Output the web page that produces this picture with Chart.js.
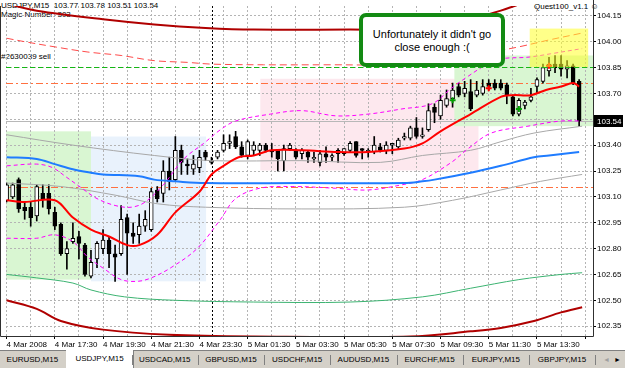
<!DOCTYPE html>
<html>
<head>
<meta charset="utf-8">
<script src="https://cdn.jsdelivr.net/npm/chart.js@4/dist/chart.umd.min.js"></script>
<style>
  html, body { margin: 0; padding: 0; background: #fff; }
  #wrap { position: relative; width: 625px; height: 368px; overflow: hidden; font-family: 'Liberation Sans', Arial, sans-serif; }
  #chart { position: absolute; left: 0; top: 0; z-index: 1; }
  .txt { position: absolute; font-size: 8px; line-height: 9px; color: #000; white-space: pre; z-index: 0; }
  #note { position: absolute; left: 359px; top: 13px; width: 138px; height: 35px; border: 4px solid #138a13; border-radius: 7px;
          background: #fff; z-index: 2; font-size: 11px; line-height: 13px; text-align: center; padding-top: 11px; box-sizing: content-box; }
  #tabs { position: absolute; left: 0; top: 350px; width: 625px; height: 18px; background: #d4d0c8; border-top: 1px solid #808080; z-index: 2; }
  .tab { position: absolute; top: 0; height: 17px; font-size: 8px; line-height: 17px; text-align: center; color: #000; }
  .tab.on { background: #fff; border-left: 1px solid #fff; border-right: 1px solid #808080; border-bottom: 1px solid #808080; top: -1px; height: 18px; }
  .sep { position: absolute; top: 4px; width: 1px; height: 10px; background: #808080; }
</style>
</head>
<body>
<div id="wrap">
  <div class="txt" style="left:1px;top:1px">USDJPY,M15  103.77 103.78 103.51 103.54
Magic Number: 303</div>
  <div class="txt" style="left:1px;top:52px">#2630039 sell</div>
  <div class="txt" style="left:534px;top:2px">Quest100_v1.1 ☺</div>
  <canvas id="chart" width="625" height="349"></canvas>
  <div id="note">Unfortunately it didn't go<br>close enough :(</div>
  <div id="tabs"></div>
</div>
<script>
// USDJPY M15, 4 Mar 2008 15:30 .. 5 Mar 2008 15:15, one value per bar
const candleOpen = [103.08,103.10,103.20,103.04,103.04,102.99,103.12,103.12,103.01,102.94,
  102.77,102.84,102.87,102.82,102.64,102.74,102.80,102.85,102.77,102.77,
  102.98,102.89,102.88,102.93,102.91,103.14,103.12,103.25,103.20,103.37,
  103.29,103.26,103.27,103.36,103.30,103.33,103.37,103.41,103.45,103.39,
  103.34,103.37,103.37,103.40,103.37,103.37,103.31,103.38,103.37,103.35,
  103.36,103.32,103.30,103.35,103.33,103.35,103.35,103.37,103.42,103.38,
  103.36,103.36,103.39,103.37,103.40,103.39,103.44,103.44,103.50,103.45,
  103.49,103.62,103.57,103.63,103.67,103.74,103.70,103.71,103.69,103.70,
  103.76,103.76,103.76,103.75,103.68,103.58,103.63,103.66,103.74,103.77,
  103.83,103.87,103.87,103.84,103.86,103.77];
const candleHigh = [103.18,103.18,103.21,103.07,103.07,103.17,103.17,103.17,103.04,102.95,
  102.84,102.95,102.90,102.83,102.79,102.84,102.91,102.87,102.82,103.05,
  103.00,102.95,103.00,103.02,103.15,103.16,103.31,103.33,103.45,103.40,
  103.32,103.34,103.37,103.37,103.33,103.37,103.46,103.46,103.48,103.42,
  103.43,103.42,103.41,103.41,103.41,103.37,103.40,103.41,103.38,103.38,
  103.37,103.36,103.37,103.39,103.35,103.38,103.38,103.42,103.42,103.38,
  103.38,103.45,103.41,103.42,103.41,103.44,103.47,103.51,103.56,103.50,
  103.64,103.64,103.69,103.72,103.76,103.76,103.77,103.78,103.77,103.78,
  103.78,103.78,103.78,103.76,103.69,103.67,103.66,103.73,103.79,103.87,
  103.91,103.92,103.92,103.89,103.87,103.78];
const candleLow = [103.07,103.09,103.01,102.97,102.93,102.96,103.04,103.00,102.91,102.76,
  102.68,102.83,102.74,102.64,102.63,102.69,102.77,102.69,102.61,102.76,
  102.65,102.83,102.83,102.90,102.90,103.07,103.07,103.14,103.19,103.23,
  103.23,103.23,103.24,103.31,103.29,103.32,103.36,103.38,103.38,103.33,
  103.32,103.34,103.34,103.36,103.33,103.25,103.25,103.37,103.32,103.32,
  103.30,103.30,103.28,103.30,103.31,103.30,103.34,103.36,103.33,103.32,
  103.33,103.35,103.36,103.35,103.35,103.38,103.43,103.43,103.44,103.44,
  103.48,103.53,103.55,103.62,103.62,103.68,103.68,103.60,103.68,103.69,
  103.72,103.72,103.72,103.64,103.57,103.57,103.61,103.65,103.70,103.76,
  103.80,103.82,103.80,103.79,103.75,103.51];
const candleClose = [103.17,103.17,103.03,103.02,102.98,103.16,103.09,103.03,102.93,102.77,
  102.80,102.86,102.83,102.65,102.72,102.83,102.85,102.77,102.75,102.97,
  102.89,102.87,102.93,102.97,103.13,103.09,103.25,103.19,103.37,103.30,
  103.28,103.29,103.33,103.33,103.31,103.36,103.41,103.42,103.39,103.34,
  103.42,103.40,103.40,103.37,103.36,103.32,103.38,103.40,103.33,103.37,
  103.33,103.33,103.35,103.33,103.34,103.37,103.38,103.41,103.34,103.37,
  103.37,103.40,103.37,103.40,103.41,103.43,103.45,103.50,103.45,103.46,
  103.60,103.59,103.66,103.67,103.72,103.69,103.73,103.61,103.72,103.74,
  103.74,103.73,103.73,103.69,103.58,103.66,103.65,103.68,103.78,103.85,
  103.87,103.85,103.84,103.86,103.76,103.54];

// indicator lines, read at selected bars
const redMaBars   = [0,3,8,11,14,17,20,22,25,28,32,34,36,38.5,41,44,49,55,60,66,69,72,77,82,84,87,89.5,92,94,95];
const redMaValues = [103.08,103.07,103.08,102.98,102.91,102.87,102.82,102.82,102.88,103.01,103.13,103.23,103.28,103.33,103.34,103.37,103.37,103.36,103.36,103.38,103.41,103.48,103.58,103.68,103.69,103.69,103.72,103.74,103.76,103.74];
const blueMaBars   = [0,5,8,11,14,16,22,24.5,28,33,49,66,69,71,77,82,87.5,90,95];
const blueMaValues = [103.33,103.32,103.29,103.26,103.24,103.23,103.22,103.20,103.19,103.18,103.18,103.18,103.19,103.20,103.24,103.28,103.33,103.34,103.36];
const bandUpBars   = [0,5,7.6,9.7,12.5,15,18,20.7,23,26,29.4,32.7,35.5,38,43.8,49,54.6,60,65.6,70.6,73.8,76.6,79.3,82,86.5,90.3,95.5];
const bandUpValues = [103.28,103.29,103.27,103.22,103.15,103.09,103.05,103.04,103.07,103.17,103.32,103.41,103.49,103.54,103.58,103.60,103.57,103.58,103.61,103.64,103.73,103.80,103.86,103.90,103.91,103.93,103.96];
const bandLoBars   = [0,5,8,11,13.5,16.3,19,21.7,24,27.3,31.6,35.5,38,42,47.5,54.6,60,65.6,69,73.8,76.6,80.4,86.5,92,95.5];
const bandLoValues = [102.86,102.86,102.88,102.84,102.75,102.68,102.62,102.61,102.63,102.69,102.80,102.97,103.09,103.15,103.16,103.15,103.14,103.17,103.20,103.30,103.38,103.47,103.51,103.54,103.54];
const redDashBars   = [0,3,8,13.5,19,24.5,30,34,42.6,54,69,74,79,85,90,95.5];
const redDashValues = [104.02,104.00,103.97,103.94,103.92,103.89,103.88,103.87,103.866,103.866,103.866,103.89,103.93,103.97,104.01,104.05];
const outerUpBars   = [0,5,16,24.5,33,41,57,66,70.6,77,82,84.5,89.5];
const outerUpValues = [104.22,104.18,104.13,104.10,104.08,104.07,104.07,104.07,104.09,104.13,104.18,104.21,104.27];
const outerLoBars   = [0,5,9,16,27,41,67,77,82,87.5,92,95.5];
const outerLoValues = [102.50,102.45,102.38,102.33,102.30,102.29,102.29,102.32,102.34,102.38,102.43,102.46];
const grayUpBars   = [0,11,24.5,34,49,62,69,77,82,87.5,95.5];
const grayUpValues = [103.46,103.40,103.34,103.31,103.31,103.30,103.34,103.37,103.42,103.47,103.51];
const grayLoBars   = [0,9,18,25,33,49,66,74,82,88.6,95.5];
const grayLoValues = [103.18,103.16,103.11,103.06,103.04,103.03,103.04,103.08,103.14,103.19,103.23];
const greenBars   = [0,5,11,14,19.6,28,41,57,69,77,85,92,95.5];
const greenValues = [102.65,102.63,102.60,102.56,102.52,102.50,102.49,102.49,102.52,102.57,102.62,102.65,102.66];

// trade arrows
const buyMarkBars = [74, 85];
const buyMarkPrices = [103.66, 103.61];
const sellMarkBars = [80, 90];
const sellMarkPrices = [103.73, 103.86];

// levels
const sellOrderLevel = 103.855;
const stopLevels = [103.76, 103.155];
const daySeparatorBars = [34];

// rectangles: bar range and price range
const zoneFrom  = [-0.2, 14.0, 42.1, 74.3];
const zoneTo    = [14.0, 33.1, 78.3, 97.5];
const zoneHigh  = [103.48, 103.45, 103.785, 103.92];
const zoneLow   = [102.62, 102.61, 103.253, 103.51];
const topZoneFrom = 86.8, topZoneTo = 96.5, topZoneHigh = 104.076, topZoneLow = 103.853;

// axes
const priceTicks = [102.35,102.50,102.65,102.80,102.95,103.10,103.25,103.40,103.55,103.70,103.85,104.00,104.15];
const timeLabels = ['4 Mar 2008','4 Mar 17:30','4 Mar 19:30','4 Mar 21:30','4 Mar 23:30','5 Mar 01:30',
  '5 Mar 03:30','5 Mar 05:30','5 Mar 07:30','5 Mar 09:30','5 Mar 11:30','5 Mar 13:30'];
const tabNames = ['EURUSD,M15','USDJPY,M15','USDCAD,M15','GBPUSD,M15','USDCHF,M15','AUDUSD,M15','EURCHF,M15','EURJPY,M15','GBPJPY,M15'];

const zoneColors = ['#d9f6d2', '#e9f2fc', '#fde8ee', '#d9f6d2'];

// tab strip
const tabs = document.getElementById('tabs');
tabNames.forEach((name, i) => {
  const t = document.createElement('div');
  t.className = 'tab' + (i === 1 ? ' on' : '');
  t.style.left = (-0.6 + 66.2 * i) + 'px';
  t.style.width = '66px';
  t.textContent = name;
  tabs.appendChild(t);
  if (i !== 0 && i !== 1) {
    const s = document.createElement('div');
    s.className = 'sep';
    s.style.left = Math.round(-0.6 + 66.2 * i) + 'px';
    tabs.appendChild(s);
  }
});
const lastSep = document.createElement('div');
lastSep.className = 'sep';
lastSep.style.left = '595px';
tabs.appendChild(lastSep);
const arrows = document.createElement('div');
arrows.className = 'tab';
arrows.style.left = '600px';
arrows.style.width = '24px';
arrows.style.fontSize = '7px';
arrows.innerHTML = '<span style="color:#a0a0a0">◄</span>&nbsp;&nbsp;►';
tabs.appendChild(arrows);

function lineSet(xs, ys, color, width, dash, order) {
  return {
    type: 'line',
    data: xs.map((x, i) => ({ x: x, y: ys[i] })),
    borderColor: color,
    borderWidth: width,
    borderDash: dash,
    pointRadius: 0,
    tension: 0.35,
    fill: false,
    order: order
  };
}

function hLine(ctx, area, y, color, dash, width) {
  ctx.save();
  ctx.strokeStyle = color;
  ctx.lineWidth = width || 1;
  ctx.setLineDash(dash);
  ctx.beginPath();
  ctx.moveTo(area.left, Math.round(y) + 0.5);
  ctx.lineTo(area.right, Math.round(y) + 0.5);
  ctx.stroke();
  ctx.restore();
}

const chartDecor = {
  id: 'chartDecor',
  beforeDraw(chart) {
    const { ctx, chartArea: a, scales: { x, y } } = chart;
    ctx.save();
    ctx.beginPath();
    ctx.rect(a.left, a.top, a.width, a.height);
    ctx.clip();
    zoneFrom.forEach((f, i) => {
      const x0 = x.getPixelForValue(f), x1 = x.getPixelForValue(zoneTo[i]);
      const y0 = y.getPixelForValue(zoneHigh[i]), y1 = y.getPixelForValue(zoneLow[i]);
      ctx.fillStyle = zoneColors[i];
      ctx.fillRect(x0, y0, x1 - x0, y1 - y0);
    });
    ctx.restore();
  },
  beforeDatasetsDraw(chart) {
    const { ctx, chartArea: a, scales: { x, y } } = chart;
    // bid line
    hLine(ctx, a, y.getPixelForValue(candleClose[candleClose.length - 1]), '#b8b8b8', []);
    stopLevels.forEach(v => hLine(ctx, a, y.getPixelForValue(v), '#ff7040', [7, 3, 2, 3]));
    ctx.save();
    ctx.strokeStyle = '#000';
    ctx.setLineDash([2, 2]);
    daySeparatorBars.forEach(b => {
      const px = Math.round(x.getPixelForValue(b)) + 0.5;
      ctx.beginPath();
      ctx.moveTo(px, a.top);
      ctx.lineTo(px, a.bottom);
      ctx.stroke();
    });
    ctx.restore();
  },
  afterDatasetsDraw(chart) {
    const { ctx, chartArea: a, scales: { x, y } } = chart;
    hLine(ctx, a, y.getPixelForValue(sellOrderLevel), '#14b814', [5, 3]);
    const x0 = x.getPixelForValue(topZoneFrom), x1 = x.getPixelForValue(topZoneTo);
    const y0 = y.getPixelForValue(topZoneHigh), y1 = y.getPixelForValue(topZoneLow);
    ctx.save();
    ctx.fillStyle = 'rgba(255,255,40,0.55)';
    ctx.fillRect(x0, y0, x1 - x0, y1 - y0);
    ctx.restore();
  },
  afterDraw(chart) {
    const { ctx, chartArea: a, scales: { y } } = chart;
    ctx.save();
    ctx.strokeStyle = '#303030';
    ctx.lineWidth = 1;
    ctx.beginPath();
    ctx.moveTo(0.5, a.top);
    ctx.lineTo(0.5, a.bottom + 0.5);
    ctx.lineTo(a.right + 0.5, a.bottom + 0.5);
    ctx.lineTo(a.right + 0.5, 0);
    ctx.stroke();
    // current price tag
    const last = candleClose[candleClose.length - 1];
    const py = Math.round(y.getPixelForValue(last));
    ctx.fillStyle = '#000';
    ctx.fillRect(a.right + 1, py - 6, 29, 12);
    ctx.fillStyle = '#fff';
    ctx.font = '8px "Liberation Sans", Arial, sans-serif';
    ctx.textBaseline = 'middle';
    ctx.fillText(last.toFixed(2), a.right + 4, py + 0.5);
    ctx.restore();
  }
};

const barIdx = candleOpen.map((_, i) => i);

new Chart(document.getElementById('chart'), {
  type: 'bar',
  data: {
    datasets: [
      {
        type: 'line', showLine: false,
        data: buyMarkBars.map((b, i) => ({ x: b, y: buyMarkPrices[i] })),
        pointStyle: 'cross', pointRadius: 3, borderWidth: 2, borderColor: '#00a000', order: 0
      },
      {
        type: 'line', showLine: false,
        data: sellMarkBars.map((b, i) => ({ x: b, y: sellMarkPrices[i] })),
        pointStyle: 'cross', pointRadius: 3, borderWidth: 2, borderColor: '#ff0000', order: 0
      },
      lineSet(redMaBars, redMaValues, '#ff0000', 2, [], 1),
      lineSet(blueMaBars, blueMaValues, '#1f7cff', 2, [], 2),
      lineSet(bandUpBars, bandUpValues, '#ff00ff', 1, [4, 3], 3),
      lineSet(bandLoBars, bandLoValues, '#ff00ff', 1, [4, 3], 3),
      lineSet(redDashBars, redDashValues, '#ff4a4a', 1, [7, 4], 3),
      lineSet(outerUpBars, outerUpValues, '#b00000', 2, [], 4),
      lineSet(outerLoBars, outerLoValues, '#b00000', 2, [], 4),
      lineSet(grayUpBars, grayUpValues, '#a8a8a8', 1, [], 5),
      lineSet(grayLoBars, grayLoValues, '#a8a8a8', 1, [], 5),
      lineSet(greenBars, greenValues, '#3cb371', 1, [], 5),
      {
        label: 'body',
        data: barIdx.map(i => ({ x: i, y: [candleOpen[i], candleClose[i]] })),
        backgroundColor: barIdx.map(i => candleClose[i] >= candleOpen[i] ? '#ffffff' : '#000000'),
        borderColor: '#000',
        borderWidth: 1,
        borderSkipped: false,
        barThickness: 4,
        grouped: false,
        order: 9
      },
      {
        label: 'wick',
        data: barIdx.map(i => ({ x: i, y: [candleLow[i], candleHigh[i]] })),
        backgroundColor: '#000',
        borderWidth: 0,
        barThickness: 1,
        grouped: false,
        order: 10
      }
    ]
  },
  options: {
    responsive: false,
    animation: false,
    events: [],
    layout: { padding: { left: 1, top: 1, right: 0, bottom: 0 } },
    plugins: { legend: { display: false }, tooltip: { enabled: false } },
    scales: {
      x: {
        type: 'linear',
        min: -0.1,
        max: 97.3,
        offset: false,
        afterBuildTicks: scale => {
          const t = [];
          for (let b = 0; b <= 96; b += 4) t.push({ value: b });
          scale.ticks = t;
        },
        afterFit: scale => { scale.height = 13; scale.paddingLeft = 0; scale.paddingRight = 0; },
        grid: {
          offset: false,
          color: '#b4b4b4',
          tickLength: 3,
          tickColor: c => (c.tick && c.tick.value % 8 === 0) ? '#000' : 'rgba(0,0,0,0)'
        },
        border: { display: false, dash: [2, 2] },
        ticks: {
          autoSkip: false,
          maxRotation: 0,
          align: 'start',
          padding: 1,
          color: '#000',
          font: { family: 'Liberation Sans', size: 8 },
          callback: v => (v % 8 === 0 && timeLabels[v / 8]) ? timeLabels[v / 8] : ''
        }
      },
      y: {
        position: 'right',
        min: 102.293,
        max: 104.207,
        afterBuildTicks: scale => { scale.ticks = priceTicks.map(v => ({ value: v })); },
        afterFit: scale => { scale.width = 32; scale.paddingTop = 0; scale.paddingBottom = 0; },
        grid: { color: '#b4b4b4', tickLength: 3, tickColor: '#000' },
        border: { display: false, dash: [2, 2] },
        ticks: {
          padding: 1,
          color: '#000',
          font: { family: 'Liberation Sans', size: 8 },
          callback: v => v.toFixed(2)
        }
      }
    }
  },
  plugins: [chartDecor]
});
</script>
</body>
</html>
